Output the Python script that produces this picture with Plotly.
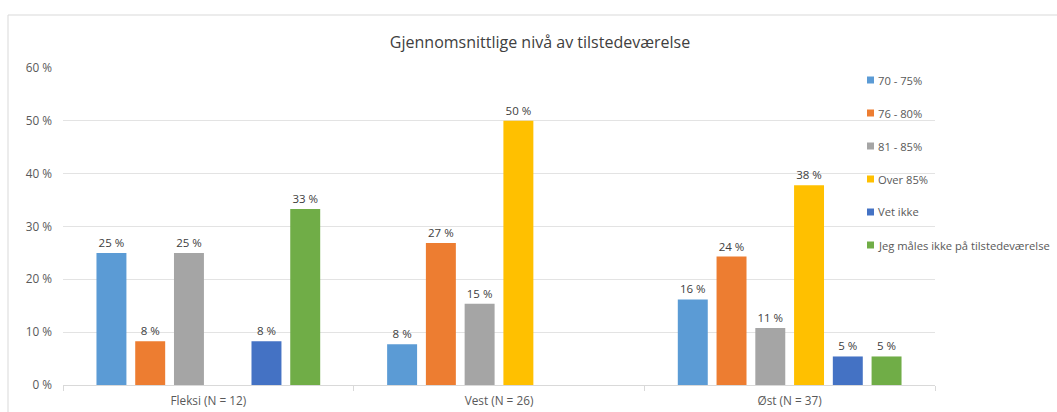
import plotly.graph_objects as go

categories = ["Fleksi (N = 12)", "Vest (N = 26)", "Øst (N = 37)"]
series_names = ["70 - 75%", "76 - 80%", "81 - 85%", "Over 85%", "Vet ikke",
                "Jeg måles ikke på tilstedeværelse"]
v_70_75 = [25.0, 7.7, 16.2]
v_76_80 = [8.3, 26.9, 24.3]
v_81_85 = [25.0, 15.4, 10.8]
v_over85 = [None, 50.0, 37.8]
v_vet_ikke = [8.3, None, 5.4]
v_ikke_maalt = [33.3, None, 5.4]
y_ticks = [0, 10, 20, 30, 40, 50, 60]
y_tick_labels = ["0 %", "10 %", "20 %", "30 %", "40 %", "50 %", "60 %"]

colors = ["#5B9BD5", "#ED7D31", "#A5A5A5", "#FFC000", "#4472C4", "#70AD47"]
series_values = [v_70_75, v_76_80, v_81_85, v_over85, v_vet_ikke, v_ikke_maalt]

FONT = "Open Sans"
L, R, T, B = 63, 935, 68, 385
W, H = 1057, 412
pw, ph = R - L, B - T

def px_x(x):
    return (x - L) / pw

def px_y(y):
    return (B - y) / ph

fig = go.Figure()
shapes = []
annotations = []
for i, (name, vals) in enumerate(zip(series_names, series_values)):
    fig.add_trace(go.Bar(
        name=name, x=categories, y=vals,
        marker=dict(color=colors[i], line=dict(width=0)),
        text=[None if v is None else f"{v:.0f} %" for v in vals],
        textposition="outside",
        textfont=dict(size=11.5, color="#404040", family=FONT),
        cliponaxis=False, showlegend=False,
    ))
    # legend entry (custom, Excel-like)
    yc = 80 + i * 33
    shapes.append(dict(type="rect", xref="paper", yref="paper",
                       x0=px_x(867), x1=px_x(874), y0=px_y(yc + 3.5), y1=px_y(yc - 3.5),
                       fillcolor=colors[i], line=dict(width=0)))
    annotations.append(dict(text=name, xref="paper", yref="paper",
                            x=px_x(876), y=px_y(yc), xanchor="left", yanchor="middle",
                            showarrow=False,
                            font=dict(family=FONT, size=11.2, color="#595959")))

shapes.append(dict(type="rect", xref="paper", yref="paper",
                   x0=px_x(8), x1=px_x(1080), y0=px_y(430), y1=px_y(15),
                   line=dict(color="#d9d9d9", width=1), fillcolor="rgba(0,0,0,0)",
                   layer="below"))

fig.update_layout(
    width=W, height=H,
    margin=dict(l=L, r=W - R, t=T, b=H - B, autoexpand=False),
    paper_bgcolor="white", plot_bgcolor="white",
    barmode="group", bargap=0.2, bargroupgap=0.227,
    title=dict(text="Gjennomsnittlige nivå av tilstedeværelse",
               x=540 / W, xanchor="center", y=1 - 42 / H, yanchor="middle",
               font=dict(family=FONT, size=16, color="#404040")),
    font=dict(family=FONT, size=12, color="#595959"),
    showlegend=False,
    xaxis=dict(showgrid=False, showline=True, linecolor="#d9d9d9", linewidth=1,
               ticks="outside", tickson="boundaries", ticklen=5, tickcolor="#d9d9d9",
               ticklabelstandoff=5,
               tickfont=dict(family=FONT, size=11.8, color="#595959")),
    yaxis=dict(range=[0, 60], tickvals=y_ticks, ticktext=y_tick_labels,
               showgrid=True, gridcolor="#e3e3e3", gridwidth=1, zeroline=False,
               showline=False, ticks="", ticklabelstandoff=10,
               tickfont=dict(family=FONT, size=11.8, color="#595959")),
    shapes=shapes,
    annotations=annotations,
)

fig.write_html("out.html")
